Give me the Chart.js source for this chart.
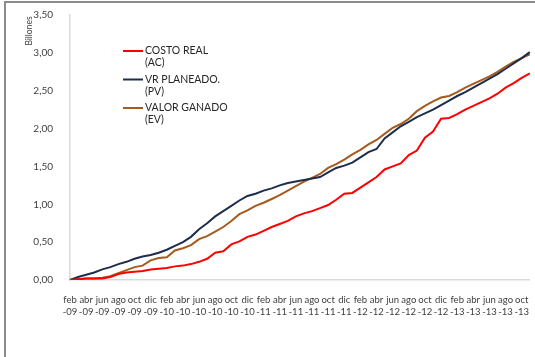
<!DOCTYPE html>
<html>
<head>
<meta charset="utf-8">
<script src="https://cdn.jsdelivr.net/npm/chart.js@4/dist/chart.umd.min.js"></script>
<style>
  html, body { margin: 0; padding: 0; background: #fff; overflow: hidden; }
  #wrap { position: relative; width: 535px; height: 357px; }
  #frame { position: absolute; left: 4px; top: 1px; width: 540px; height: 360px;
           border-left: 2px solid #8c8c8c; border-top: 2px solid #8c8c8c; }
  canvas { position: absolute; left: 0; top: 0; }
</style>
</head>
<body>
<div id="wrap">
  <div id="frame"></div>
  <canvas id="evChart" width="535" height="357"></canvas>
</div>
<script>
// Months feb-09 .. nov-13
const months = [
  'feb-09','mar-09','abr-09','may-09','jun-09','jul-09','ago-09','sep-09','oct-09','nov-09','dic-09',
  'ene-10','feb-10','mar-10','abr-10','may-10','jun-10','jul-10','ago-10','sep-10','oct-10','nov-10','dic-10',
  'ene-11','feb-11','mar-11','abr-11','may-11','jun-11','jul-11','ago-11','sep-11','oct-11','nov-11','dic-11',
  'ene-12','feb-12','mar-12','abr-12','may-12','jun-12','jul-12','ago-12','sep-12','oct-12','nov-12','dic-12',
  'ene-13','feb-13','mar-13','abr-13','may-13','jun-13','jul-13','ago-13','sep-13','oct-13','nov-13'
];

// Billones
const costoReal = [
  0.00, 0.01, 0.02, 0.02, 0.02, 0.04, 0.08, 0.10, 0.11, 0.12, 0.14,
  0.15, 0.16, 0.18, 0.19, 0.21, 0.24, 0.28, 0.36, 0.38, 0.47, 0.51, 0.57,
  0.60, 0.65, 0.70, 0.74, 0.78, 0.84, 0.88, 0.91, 0.95, 0.99, 1.06, 1.14,
  1.15, 1.22, 1.29, 1.36, 1.46, 1.50, 1.54, 1.65, 1.71, 1.88, 1.96, 2.13,
  2.14, 2.19, 2.25, 2.30, 2.35, 2.40, 2.46, 2.54, 2.60, 2.67, 2.73
];
const vrPlaneado = [
  0.00, 0.04, 0.07, 0.10, 0.14, 0.17, 0.21, 0.24, 0.28, 0.31, 0.33,
  0.36, 0.40, 0.45, 0.50, 0.57, 0.67, 0.75, 0.84, 0.91, 0.98, 1.05, 1.11,
  1.14, 1.18, 1.21, 1.25, 1.28, 1.30, 1.32, 1.34, 1.36, 1.42, 1.48, 1.51,
  1.55, 1.62, 1.69, 1.73, 1.87, 1.95, 2.03, 2.09, 2.15, 2.20, 2.25, 2.31,
  2.37, 2.43, 2.48, 2.54, 2.60, 2.66, 2.72, 2.79, 2.86, 2.93, 3.01
];
const valorGanado = [
  0.00, 0.01, 0.02, 0.02, 0.03, 0.05, 0.09, 0.13, 0.17, 0.19, 0.26,
  0.29, 0.30, 0.39, 0.42, 0.46, 0.54, 0.58, 0.64, 0.70, 0.78, 0.87, 0.92,
  0.98, 1.02, 1.07, 1.12, 1.18, 1.24, 1.30, 1.35, 1.40, 1.48, 1.53, 1.59,
  1.66, 1.72, 1.79, 1.85, 1.93, 2.01, 2.06, 2.13, 2.23, 2.30, 2.36, 2.41,
  2.43, 2.48, 2.54, 2.59, 2.64, 2.69, 2.75, 2.82, 2.88, 2.93, 2.98
];

const legendLines = [
  ['COSTO REAL', '(AC)'],
  ['VR PLANEADO.', '(PV)'],
  ['VALOR GANADO', '(EV)']
];

const FONT = 'Lato, "Open Sans", sans-serif';

// Legend drawn inside the plot, top-left
const insideLegend = {
  id: 'insideLegend',
  afterDraw(chart) {
    const ctx = chart.ctx;
    const x0 = chart.chartArea.left + 53;
    let y = 51;
    ctx.save();
    ctx.font = '10.5px ' + FONT;
    ctx.textBaseline = 'middle';
    ctx.fillStyle = '#262626';
    chart.data.datasets.forEach((ds, i) => {
      ctx.strokeStyle = ds.borderColor;
      ctx.lineWidth = 2;
      ctx.beginPath();
      ctx.moveTo(x0, y);
      ctx.lineTo(x0 + 20, y);
      ctx.stroke();
      legendLines[i].forEach((t, k) => ctx.fillText(t, x0 + 22, y + k * 12));
      y += 28.5;
    });
    ctx.restore();
  }
};

// "Billones" unit label near the top of the value axis
const unitLabel = {
  id: 'unitLabel',
  afterDraw(chart) {
    const ctx = chart.ctx;
    ctx.save();
    ctx.translate(29, 31);
    ctx.rotate(-Math.PI / 2);
    ctx.font = '8.5px ' + FONT;
    ctx.fillStyle = '#404040';
    ctx.textAlign = 'center';
    ctx.textBaseline = 'middle';
    ctx.fillText('Billones', 0, 0);
    ctx.restore();
  }
};

new Chart(document.getElementById('evChart'), {
  type: 'line',
  data: {
    labels: months,
    datasets: [
      { label: 'COSTO REAL (AC)', data: costoReal, borderColor: '#ff0000' },
      { label: 'VR PLANEADO. (PV)', data: vrPlaneado, borderColor: '#1f2d4d' },
      { label: 'VALOR GANADO (EV)', data: valorGanado, borderColor: '#a65a1e' }
    ].map(d => Object.assign(d, { borderWidth: 2, pointRadius: 0, tension: 0, fill: false }))
  },
  options: {
    responsive: false,
    animation: false,
    layout: { padding: { top: 15, right: 0, left: 0, bottom: 0 } },
    plugins: { legend: { display: false }, tooltip: { enabled: false } },
    scales: {
      x: {
        offset: false,
        grid: { display: false },
        border: { color: '#d9d9d9', width: 1.5 },
        ticks: {
          autoSkip: false,
          maxRotation: 0,
          padding: 6,
          color: '#404040',
          font: { family: FONT, size: 9.5, lineHeight: 1.25 },
          callback: function (v, i) {
            if (i % 2) return null;
            const s = months[i].split('-');
            return [s[0], '-' + s[1]];
          }
        },
        afterFit: s => { s.height = 77; }
      },
      y: {
        min: 0,
        max: 3.5,
        grid: { display: false },
        border: { color: '#d9d9d9', width: 1.5 },
        ticks: {
          stepSize: 0.5,
          padding: 9,
          color: '#404040',
          font: { family: FONT, size: 10 },
          callback: v => v.toFixed(2).replace('.', ',')
        },
        afterFit: s => { s.width = 70; }
      }
    }
  },
  plugins: [insideLegend, unitLabel]
});
</script>
</body>
</html>
